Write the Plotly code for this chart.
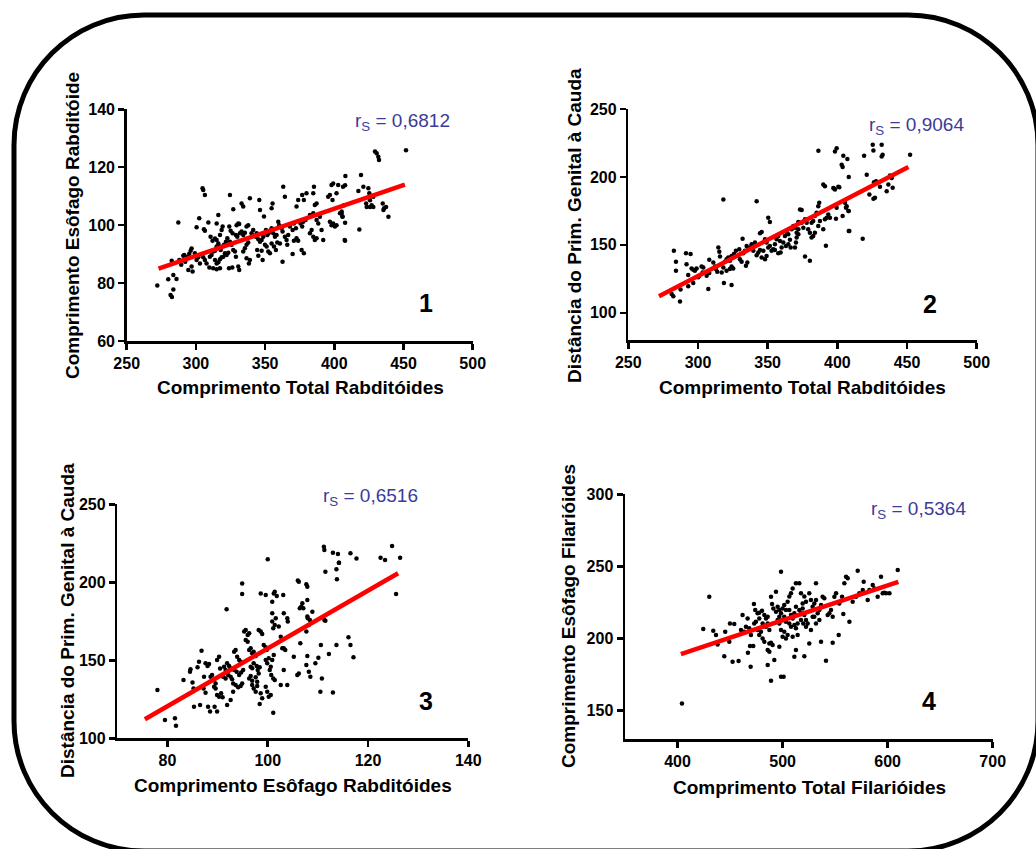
import plotly.graph_objects as go

# ---------------- data ----------------
# Panel 1: Comprimento Total Rabditóides vs Comprimento Esôfago Rabditóide
x1 = [272.1, 280, 283.7, 286, 281.7, 282.7, 283.7, 287.3, 282.5, 288, 290.9, 291.6, 293.8, 295.2, 296.2, 296.9,
      292.3, 294.5, 296.9, 297.6, 289.4, 300.5, 302.4, 305.3, 306.5, 304.8, 300.5, 301.7, 302.9, 305.3, 299.3,
      305.8, 306.5, 309, 310.6, 312, 313.8, 315, 312.5, 310.1, 311.3, 312.5, 313.8, 306.5, 307.7, 309.7, 315,
      316.2, 317.4, 318.6, 319.3, 315, 316.2, 317.4, 317.9, 313.8, 315, 316.2, 317.4, 318.6, 319.8, 315, 317.4,
      321, 322.2, 323.4, 320.3, 321.7, 322.7, 324.1, 325.1, 326.5, 324.6, 327, 329.4, 330.6, 331.3, 328.9,
      329.9, 331.8, 333, 324.6, 325.8, 327, 328.2, 328.9, 323.9, 326.3, 330.6, 331.3, 334.2, 335.4, 336.6,
      337.8, 334.2, 335.4, 336.6, 337.8, 333, 334.2, 339, 336.6, 338.3, 339, 340.2, 341.4, 343.4, 343.9, 345.1,
      346.3, 347.5, 348.7, 346.3, 345.8, 344.3, 345.1, 347.5, 348.2, 349.2, 350.6, 351.6, 352.5, 353.5, 349.9,
      351.1, 352.3, 353.5, 354.7, 355.9, 357.1, 358.3, 354.7, 356.4, 357.8, 358.8, 355.4, 354.7, 359.5, 360.2,
      361.9, 362.6, 363.1, 364.3, 364.3, 365.5, 366, 366.7, 362.6, 360.7, 367.9, 369.9, 370.8, 372.3, 369.9,
      370.8, 372.7, 373.9, 372.7, 373.9, 376.8, 378, 379.9, 375.6, 376.8, 377.5, 379.2, 376.4, 378, 382.4,
      383.6, 384.8, 385.9, 387.2, 382.4, 384.8, 385.9, 387.2, 387.2, 388.4, 389.6, 390.8, 392, 384.8, 385.3,
      395.6, 396.8, 398, 399.2, 398.7, 396.8, 398, 399.2, 400.4, 401.6, 401.6, 402.8, 405.3, 405.8, 406.3,
      407.5, 404.1, 408, 407.8, 407, 405.3, 406, 407.8, 407.8, 418.1, 417.4, 419.3, 421, 424.6, 425.3, 425.8,
      427, 428.2, 425.8, 423.4, 423, 429.4, 430.6, 431.8, 432.3, 435, 436, 437.4, 435.5, 439.1, 451.8, 428.2]
y1 = [79.2, 81.3, 82.8, 81.4, 75.9, 75.2, 77.8, 100.9, 87.7, 88, 89.4, 89.7, 89.1, 90.1, 91.2, 91.9,
      87.4, 84.5, 85.7, 84, 86.3, 99.3, 102.4, 112.1, 110.4, 112.7, 88, 88.9, 86.8, 88.9, 90.3,
      98.6, 98.1, 100.9, 96, 94.6, 95.4, 94.9, 85.1, 89.1, 89.7, 90.9, 91.2, 88, 86.8, 85.4, 100.6,
      103.5, 96.6, 98.3, 99.5, 92.6, 93.7, 92.6, 91.4, 88, 86.8, 87.2, 88.2, 88.9, 89.1, 84.8, 85.1,
      90.3, 89.7, 90.5, 93.2, 94.3, 95.5, 99.5, 98.1, 97.2, 110.4, 105.5, 100, 100.6, 100.4, 96.6,
      96, 97.2, 97.8, 94.3, 93.2, 91.4, 90.9, 89.1, 85.1, 85.4, 85.7, 84.5, 90.9, 92, 93.2,
      94, 96.6, 97.4, 99.5, 100, 107.5, 106.4, 109.3, 88.6, 86.8, 88, 97.2, 98.3, 96, 97.2, 95.1,
      94.3, 94.9, 96, 105.2, 108.7, 91.4, 89.4, 91.2, 88, 103, 98.3, 96.6, 97.2, 97.8, 93.2,
      92.6, 90.9, 90.3, 98.9, 97.2, 96, 96.6, 93.7, 92.6, 91.4, 94, 107.5, 105.8, 101.2, 100,
      98.9, 97.8, 113.3, 109.8, 96, 94.9, 93.2, 96.6, 87.4, 93.7, 99.5, 98.3, 100.6, 98.9, 90,
      94.6, 95.5, 94.6, 106.4, 108.7, 110.4, 108.7, 111, 100.6, 99.5, 101.2, 101.8, 91.4, 90.3, 97.2,
      98.3, 96, 94.9, 95.5, 103.5, 104.1, 107, 107.5, 101.8, 100.6, 102.9, 98.3, 94.9, 111, 113.3,
      109.8, 110.4, 113.9, 114.4, 108.7, 101.2, 100, 100.6, 99.5, 100, 111, 113.9, 104.7, 103, 113.3,
      94.9, 104.1, 117, 113.8, 106.9, 104, 102.9, 100.8, 94.6, 98.5, 111.8, 117.3, 113.3, 112.7, 111, 108.6,
      106.9, 106.3, 106.3, 106.3, 107.5, 125.4, 124.8, 123.6, 122.5, 107.5, 105.8, 106.3, 105.2, 102.9, 125.9, 109.8]
fit1_x = [273, 451]
fit1_y = [85.0, 114.0]

# Panel 2: Comprimento Total Rabditóides vs Distância do Prim. Genital à Cauda
x2 = [281.1, 282.3, 287.1, 282.7, 284.2, 284.2, 287.5, 291.4, 294.7, 291.8, 293, 296.6, 293, 295.4, 296.6,
      297.8, 299, 300.2, 300.9, 302.6, 303.8, 303.3, 306.2, 308.1, 307.4, 308.1, 311, 312.2, 314.6, 315.3,
      315.8, 312.9, 313.8, 317, 318.2, 318.2, 318.6, 324.1, 319.3, 320.5, 321.7, 322.9, 324.1, 320.5, 322.9,
      324.1, 325.3, 325.8, 327.2, 328.9, 329.6, 330.1, 331.3, 332.5, 333.7, 332, 334.4, 335.4, 334.9, 336.1,
      337.3, 338.5, 339.7, 340.9, 342.1, 342.1, 343.3, 344.5, 345.7, 346.9, 344.5, 345.7, 348.1, 349.2, 350.4,
      351.6, 350.4, 351.6, 348.1, 349.2, 352.8, 354, 355.2, 356.4, 357.6, 358.8, 360, 361.2, 355.2, 357.6,
      359.3, 362.4, 363.6, 364.8, 366, 363.1, 364.8, 366.5, 367.2, 368.4, 369.6, 370.8, 372, 369.6, 370.3,
      370.8, 372, 373.2, 374.4, 372, 374.4, 375.6, 376.8, 378, 379.1, 380.3, 376.8, 380.3, 381.5, 382.7,
      383.9, 385.1, 386.3, 387, 386.3, 387.5, 389.9, 391.1, 392.3, 381.5, 382.7, 383.9, 389.9, 391.1, 391.8,
      393.5, 394.7, 397.1, 398.3, 400.7, 399.5, 399, 405.5, 406.7, 407.9, 403.8, 408.6, 386.4, 398.3, 399.5,
      397.6, 401.4, 403.1, 403.8, 404.3, 407.2, 408.2, 408.2, 406.2, 408.2, 418.2, 419.2, 421.1, 425.4, 425.9,
      431.8, 431.8, 432.5, 423, 426.3, 427, 425.9, 430.6, 435.4, 437.8, 439, 439.7, 436.6, 452.2, 427.8]
y2 = [113.9, 112.2, 108.3, 145.6, 137.5, 130.9, 117.1, 143.9, 143.2, 135.8, 127.8, 121.9, 119.5, 132.7, 131.7,
      130.9, 132.7, 126.1, 127.3, 134.1, 133.4, 129.7, 127.3, 129.3, 117.6, 139, 137.1, 134.1, 148, 144.9,
      141.4, 132.2, 130.2, 129.7, 133.4, 183.4, 121.9, 120.5, 137.5, 139.5, 140.7, 138.3, 141.9, 130.9, 132.2,
      134.1, 132.7, 143.2, 145.6, 141.9, 146.8, 139.5, 137.5, 143.9, 145.6, 154.6, 134.6, 137.1, 149.2, 146.8,
      148, 150.5, 145.6, 151.7, 182.2, 142.4, 144.4, 146.3, 140.7, 145.6, 158.5, 159.5, 154.2, 151.7, 148,
      149.2, 170, 166.8, 139.5, 141.9, 145.6, 146.8, 150.5, 154.2, 156.6, 152.9, 148, 151.7, 146.3, 143.9,
      144.4, 156.6, 159.5, 157.8, 153.7, 149.2, 150.5, 148, 161.5, 163.9, 162.7, 159, 161.5, 148, 151.7,
      155.4, 157.8, 176.1, 175.6, 166.8, 166.3, 162.7, 168.8, 166.3, 161.5, 159, 141.4, 138.3, 166.3, 167.6,
      171.2, 173.7, 178.5, 181, 163.9, 167.6, 161.5, 168.8, 170, 155.4, 156.6, 159, 194.4, 193.2, 149.3,
      172.4, 170, 191.9, 190.7, 192.7, 177.3, 169.3, 181, 178.5, 174.9, 171.2, 160.2, 219.3, 218.8, 221.2,
      191.5, 192.4, 209, 207.3, 215.6, 213.2, 200, 174.9, 177.3, 160.2, 154.6, 215.6, 201.7, 223.7, 219.5,
      223.7, 215.1, 216.3, 187, 196.1, 184.6, 183.9, 192.7, 189.5, 201, 199.3, 192, 194.4, 216.3, 196.8]
fit2_x = [272, 451]
fit2_y = [112.2, 207.4]

# Panel 3: Comprimento Esôfago Rabditóides vs Distância do Prim. Genital à Cauda
x3 = [78, 79.5, 81.5, 81.7, 83.2, 84.6, 84.5, 85, 85.2, 85.3, 86.5, 86, 86.3, 86.8, 87.3, 87.6, 88, 88.3,
      87.2, 87.6, 88.1, 88.5, 89.4, 89.9, 88.6, 88.9, 89.3, 89.6, 89.3, 89.6, 89.9, 90.3, 90.5, 89.9, 90.3,
      90.7, 91, 91.3, 91.6, 91.9, 92.3, 92.6, 91.8, 91.1, 91.6, 92.1, 92.6, 92.9, 91.9, 92.6, 93.1, 93.3,
      93.6, 93.9, 94.3, 94.6, 93.3, 93.8, 94.3, 94.7, 95.1, 93.1, 93.6, 94.1, 94.6, 94.9, 94.9, 94.9, 95.3,
      95.6, 96, 96.3, 95.6, 96, 96.3, 96.6, 96.9, 97.2, 97.6, 96.6, 96.9, 97.2, 97.8, 98, 98.4, 96.3, 96.6,
      96.9, 97.6, 97.9, 98.2, 96.9, 97.2, 97.6, 97.9, 98.6, 98.9, 98.4, 99.2, 99.6, 99.8, 98.2, 98.6, 98.9,
      99.6, 99.9, 100.2, 100.6, 100.9, 101.2, 100.4, 100.7, 101.1, 101.4, 99.6, 99.9, 100.2, 100.6, 101.1,
      100.9, 100.9, 101.4, 101.1, 101.6, 100.9, 101.2, 101.4, 101.8, 98.6, 99.6, 102.2, 102.6, 102.9, 103.2,
      103.5, 103.1, 103.2, 103.9, 104, 103.2, 102.6, 103.9, 105.2, 105.9, 106.2, 106.5, 106, 106.2, 107.7,
      107.9, 106.4, 106.7, 106.9, 107.1, 107.9, 107.9, 108, 108.4, 108.9, 107.7, 108.2, 107.9, 107.7, 108.2,
      108.5, 109.5, 110.1, 110.6, 110.8, 110.5, 111.3, 111.5, 112.2, 113, 113.7, 113.8, 113.7, 114.2, 116.1,
      116.5, 117.1, 111.5, 111.2, 111.3, 113, 114, 114.2, 116.5, 117.7, 122.5, 123.4, 124.8, 126.4, 125.6, 100]
y3 = [131, 111.7, 112.8, 108.1, 137.4, 144.2, 142.7, 135.7, 132, 120.3, 121.3, 145.5, 149.1, 156.2, 139.5,
      148.1, 146.3, 147.6, 132, 129.2, 120.3, 117.1, 120.3, 117.1, 139.5, 140.6, 137.4, 135.2, 133.1, 132,
      150.2, 152.3, 144.8, 127.8, 126.7, 128.8, 126.3, 145.9, 143.8, 148.1, 146.3, 144.9, 182.7, 139.5, 138.4,
      140.6, 139.5, 137.8, 121.3, 124.6, 129.9, 155.5, 156.6, 152.3, 150.2, 149.1, 143.8, 142.7, 140.6, 142.1,
      143.8, 135.2, 134.2, 132.7, 133.5, 135.2, 199.3, 192.5, 168.4, 169.4, 166.2, 167.3, 163, 161.9, 156.6,
      157.7, 154.5, 155.5, 152.8, 145.9, 144.9, 148.1, 146.3, 143.8, 145.5, 138.4, 139.9, 136.9, 139.1, 136.3,
      141.6, 134.2, 132, 129.9, 133.5, 128.8, 125.6, 122, 159.8, 158.3, 156.6, 169.4, 168.4, 166.9, 150.2,
      148.1, 151.3, 145.9, 150.2, 153.4, 143.8, 140.6, 138.4, 137.4, 133.1, 129.9, 126.7, 127.8, 116.4, 180.1,
      174.8, 172.6, 170.5, 176.9, 187.6, 192.9, 194, 191.2, 192.9, 191.9, 171.6, 165.1, 157.7, 157.7, 156.6,
      191.9, 180.1, 176.9, 174.8, 143.8, 134.2, 134.2, 152.3, 140.6, 141.6, 160.9, 201.1, 200.4, 198.7, 197.2,
      183.3, 184.4, 186.5, 183.3, 188.7, 178, 176.9, 175.8, 181.2, 168.4, 172.6, 152.8, 147, 142.7, 139.5,
      148.1, 151.7, 159.8, 138.4, 129.9, 175.8, 175.4, 154, 129.3, 159.8, 201.9, 208.3, 212.6, 164.7, 159.8,
      151.9, 206.8, 222.8, 220.7, 219, 218.1, 212.6, 218.6, 215.3, 215.8, 214.3, 223.3, 215.8, 192.5, 214.7]
fit3_x = [75.5, 126.0]
fit3_y = [112.2, 205.8]

# Panel 4: Comprimento Total Filarióides vs Comprimento Esôfago Filarióides
x4 = [404.2, 424.5, 430.2, 434, 436.6, 438.1, 444.5, 452.4, 458.1, 449.3, 449.9, 454, 445.4, 461.9, 466.7,
      465.1, 460.4, 463.5, 468.3, 469.9, 467, 469, 469.6, 472.1, 472.7, 474, 476.2, 477.8, 474.6, 473, 476.2,
      477.8, 479.4, 481, 482.6, 477.8, 480.4, 482.6, 484.2, 485.8, 481, 484.2, 485.8, 487.4, 485.8, 487.4,
      489, 487.4, 485.8, 489, 492.1, 490.5, 489, 490, 491.2, 493.7, 493.7, 496.9, 498.5, 495.3, 496.9, 498.5,
      500, 501.6, 503.2, 495.3, 496.9, 500, 501.6, 503.2, 498.5, 500, 501.6, 503.2, 504.8, 496.9, 498.5, 501,
      504.8, 506.4, 508, 509.6, 512.7, 506.4, 508, 509.6, 511.2, 512.7, 506.4, 508, 511.2, 512.7, 514.3,
      509.6, 511.2, 512.7, 514.3, 515.9, 517.5, 519.1, 520.7, 522.3, 515.9, 517.5, 519.1, 520.7, 522.3, 517.5,
      519.7, 522.3, 523.9, 520.7, 525.4, 527, 528.6, 525.4, 527, 528.6, 530.2, 531.8, 530.2, 531.8, 533.4,
      535, 531.8, 536.6, 538.1, 539.7, 535, 536.6, 541.3, 542.9, 544.5, 546.1, 547.7, 549.3, 550.9, 547.7,
      553.4, 554, 556.6, 557.8, 558.8, 560.4, 562, 563.6, 566.7, 569.9, 573.1, 576.3, 571.5, 577.2, 581,
      582.6, 585.8, 587.4, 590.5, 593.7, 595.3, 596.9, 598.5, 609.6, 601.7]
y4 = [154.9, 206.5, 228.9, 205.3, 202.3, 195.8, 187.7, 183.8, 184.3, 197.7, 210.4, 210, 204.6, 216.2, 213.9,
      208.1, 205.8, 204.6, 207, 202.3, 190, 194.7, 180.3, 194.7, 223.8, 219.7, 217.4, 213.9, 211.6, 210.4,
      205.8, 202.3, 204.6, 200, 197.7, 217.8, 219.2, 216.2, 213.9, 215.1, 210.4, 208.1, 210.4, 205.8, 191.9,
      190.7, 197, 196.5, 181.5, 170.6, 185, 195.4, 228.9, 223.8, 220.8, 218.5, 232.4, 215.1, 246.3, 222,
      219.7, 217.4, 220.8, 223.2, 219.7, 212.7, 210.4, 212.7, 215.1, 211.6, 205.8, 201.2, 204.6, 200, 202.3,
      194.2, 173.4, 173.4, 225.5, 229, 231.3, 234.7, 238.2, 219.7, 216.2, 213.9, 217.4, 222, 210.4, 208.1,
      209.3, 207, 210.4, 201.2, 187.3, 191.9, 202.3, 238.2, 231.3, 224.3, 229, 225.5, 219.7, 217.4, 220.8,
      216.2, 212.7, 212.7, 210.4, 208.1, 210.4, 187.7, 196.5, 205.8, 215.1, 231.3, 226.6, 222, 224.3, 226.6,
      215.1, 210.4, 217.4, 219.7, 238.2, 223.2, 228.9, 227.8, 212.7, 197.7, 184.5, 216.2, 217.4, 219.7, 215.1,
      228.9, 231.3, 197, 202.3, 224.3, 228.9, 216.9, 238.2, 242.8, 241.7, 211.6, 225.5, 228.9, 231.3, 233.6,
      247, 239.4, 226.6, 233.6, 237, 234.7, 228.9, 242.8, 231.3, 231.7, 231.3, 247.5, 231.3]
fit4_x = [403.2, 610.2]
fit4_y = [189.1, 239.3]

rs_labels = ["0,6812", "0,9064", "0,6516", "0,5364"]
panel_ids = ["1", "2", "3", "4"]
x_titles = ["Comprimento Total Rabditóides", "Comprimento Total Rabditóides",
            "Comprimento Esôfago Rabditóides", "Comprimento Total Filarióides"]
y_titles = ["Comprimento Esôfago Rabditóide", "Distância do Prim. Genital à Cauda",
            "Distância do Prim. Genital à Cauda", "Comprimento Esôfago Filarióides"]
x_ranges = [[250, 500], [250, 500], [70, 140], [350, 700]]
y_ranges = [[60, 140], [80, 250], [100, 250], [130, 300]]
x_ticks = [[250, 300, 350, 400, 450, 500], [250, 300, 350, 400, 450, 500],
           [80, 100, 120, 140], [400, 500, 600, 700]]
y_ticks = [[60, 80, 100, 120, 140], [100, 150, 200, 250], [100, 150, 200, 250], [150, 200, 250, 300]]

# ---------------- layout geometry (pixels) ----------------
W, H = 1036, 849
def fx(p): return p / W
def fy(p): return 1 - p / H

# plot boxes: left, right, top, bottom (pixels)
boxes = [(126.7, 472.7, 109.3, 341.0), (628.3, 976.7, 109.0, 340.0),
         (117.3, 468.3, 504.3, 738.3), (625.0, 992.7, 494.3, 739.3)]
ytitle_pos = [(72, 226), (574, 226), (67, 621), (568, 616)]
xtitle_pos = [(300, 387), (802, 387), (293, 785), (809, 787)]
rs_pos = [(402, 122), (916, 126), (370, 497), (918, 510)]
num_pos = [(426, 303), (930, 304), (426, 701), (929, 701)]

FONT = "Liberation Sans, Arial, Helvetica, sans-serif"
BLUE = "#3b3b98"

xs = [x1, x2, x3, x4]
ys = [y1, y2, y3, y4]
fxs = [fit1_x, fit2_x, fit3_x, fit4_x]
fys = [fit1_y, fit2_y, fit3_y, fit4_y]

fig = go.Figure()
layout = dict(width=W, height=H, margin=dict(l=0, r=0, t=0, b=0, pad=0, autoexpand=False),
              paper_bgcolor="white", plot_bgcolor="white", showlegend=False,
              font=dict(family=FONT, color="black"), template="none")
annotations = []

for i in range(4):
    s = "" if i == 0 else str(i + 1)
    xa, ya = "x" + s, "y" + s
    fig.add_trace(go.Scatter(x=xs[i], y=ys[i], mode="markers", xaxis=xa, yaxis=ya,
                             marker=dict(color="black", size=4.5, line=dict(width=0)),
                             cliponaxis=False))
    fig.add_trace(go.Scatter(x=fxs[i], y=fys[i], mode="lines", xaxis=xa, yaxis=ya,
                             line=dict(color="#ff0000", width=4.5)))
    l, r, t, b = boxes[i]
    common = dict(showgrid=False, zeroline=False, showline=True, linecolor="black", linewidth=2.5,
                  ticks="outside", ticklen=6, tickwidth=2.5, tickcolor="black", automargin=False,
                  tickfont=dict(family=FONT, size=16, color="black"))
    layout["xaxis" + s] = dict(common, domain=[fx(l), fx(r)], range=x_ranges[i], anchor=ya,
                               tickmode="array", tickvals=x_ticks[i],
                               ticktext=["<b>%d</b>" % v for v in x_ticks[i]])
    layout["yaxis" + s] = dict(common, domain=[fy(b), fy(t)], range=y_ranges[i], anchor=xa,
                               tickmode="array", tickvals=y_ticks[i],
                               ticktext=["<b>%d</b>" % v for v in y_ticks[i]])
    annotations.append(dict(text="<b>" + y_titles[i] + "</b>", textangle=-90, xref="paper", yref="paper",
                            x=fx(ytitle_pos[i][0]), y=fy(ytitle_pos[i][1]), showarrow=False,
                            xanchor="center", yanchor="middle", font=dict(size=19, family=FONT)))
    annotations.append(dict(text="<b>" + x_titles[i] + "</b>", xref="paper", yref="paper",
                            x=fx(xtitle_pos[i][0]), y=fy(xtitle_pos[i][1]), showarrow=False,
                            xanchor="center", yanchor="middle", font=dict(size=19, family=FONT)))
    annotations.append(dict(text="r<sub>S</sub> = " + rs_labels[i], xref="paper", yref="paper",
                            x=fx(rs_pos[i][0]), y=fy(rs_pos[i][1]), showarrow=False,
                            xanchor="center", yanchor="middle", font=dict(size=19, family=FONT, color=BLUE)))
    annotations.append(dict(text="<b>" + panel_ids[i] + "</b>", xref="paper", yref="paper",
                            x=fx(num_pos[i][0]), y=fy(num_pos[i][1]), showarrow=False,
                            xanchor="center", yanchor="middle", font=dict(size=25, family=FONT)))

layout["annotations"] = annotations

# rounded outer frame
L, T, R, B, rad = 14, 15, 1038, 851, 130
k = 0.5523 * rad
def P(x, y): return f"{fx(x):.5f},{fy(y):.5f}"
path = ("M " + P(L + rad, T) + " L " + P(R - rad, T) +
        " C " + P(R - rad + k, T) + " " + P(R, T + rad - k) + " " + P(R, T + rad) +
        " L " + P(R, B - rad) +
        " C " + P(R, B - rad + k) + " " + P(R - rad + k, B) + " " + P(R - rad, B) +
        " L " + P(L + rad, B) +
        " C " + P(L + rad - k, B) + " " + P(L, B - rad + k) + " " + P(L, B - rad) +
        " L " + P(L, T + rad) +
        " C " + P(L, T + rad - k) + " " + P(L + rad - k, T) + " " + P(L + rad, T) + " Z")
layout["shapes"] = [dict(type="path", path=path, xref="paper", yref="paper",
                         line=dict(color="black", width=5), fillcolor="rgba(0,0,0,0)")]

fig.update_layout(**layout)
fig.write_html("out.html", config={"displayModeBar": False, "staticPlot": True},
               post_script="document.body.style.margin='0';document.body.style.overflow='hidden';")
